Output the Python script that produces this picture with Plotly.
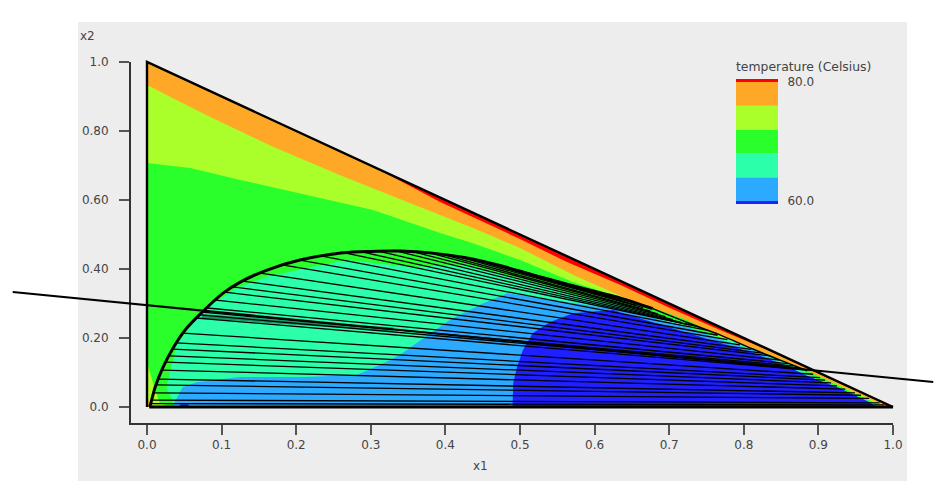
import plotly.graph_objects as go

W, H = 939, 486

# Filled temperature regions, painted from hottest to coolest (x1, x2 outlines)
red_x = [0, 1, 0]
red_y = [0, 0, 1]
orange_x = [0, .303, .393, .5, .563, .634, .701, .768, .826, .86, .9, .95, .985, .993, 0]
orange_y = [1, .697, .594, .487, .42, .354, .287, .223, .171, .137, .095, .045, .012, 0, 0]
lime_x = [0, .08, .169, .259, .349, .437, .5, .571, .638, .701, .745, .79, .826, .866, .9, .95, .98, .988, .012, .004, 0]
lime_y = [.933, .846, .754, .672, .594, .519, .461, .383, .319, .265, .228, .188, .155, .121, .09, .042, .012, 0, 0, .01, .03]
green_x = [0, .058, .125, .214, .303, .393, .437, .5, .571, .634, .678, .724, .768, .812, .858, .885, .95, .977, .985, .03, .017, .008, 0]
green_y = [.707, .693, .658, .614, .571, .504, .475, .426, .362, .318, .287, .252, .203, .167, .13, .105, .038, .011, 0, 0, .012, .07, .13]
teal_x = [.035, .026, .034, .04, .06, .085, .12, .16, .214, .268, .353, .429, .517, .584, .634, .701, .745, .79, .835, .866, .895, .95, .975, .982, .035]
teal_y = [.012, .058, .128, .18, .24, .295, .345, .377, .403, .426, .406, .412, .362, .319, .296, .252, .217, .188, .151, .122, .083, .035, .01, 0, 0]
blue_x = [.035, .048, .067, .125, .214, .281, .312, .339, .362, .406, .45, .483, .517, .584, .634, .678, .724, .768, .812, .858, .89, .95, .973, .98]
blue_y = [.006, .058, .072, .087, .087, .093, .122, .151, .186, .252, .3, .33, .319, .296, .281, .258, .232, .196, .165, .12, .085, .031, .008, 0]
navy_x = [.49, .491, .496, .504, .517, .54, .571, .625, .634, .678, .724, .768, .812, .858, .882, .925, .969, .976]
navy_y = [0, .07, .116, .165, .214, .246, .272, .281, .275, .246, .217, .188, .157, .118, .093, .058, .014, 0]
spot_x = [.044, .056, .056, .044]
spot_y = [0, 0, .008, .008]

region_colors = ["#ff0000", "#ffa726", "#aaff2b", "#2aff2b", "#2bffaa", "#2baaff", "#1f1fff", "#1f1fff"]

# Phase boundary (dome)
dome_x = [.003, .004, .011, .021, .035, .051, .074, .102, .125, .161, .205, .263, .30, .339, .383, .429, .473, .517, .563, .607, .634, .678]
dome_y = [0, .003, .058, .113, .171, .223, .275, .33, .362, .397, .426, .447, .451, .452, .446, .432, .41, .383, .356, .331, .316, .285]
tail_x = [.678, .724, .768, .812, .858, .885]
tail_y = [.285, .245, .209, .168, .128, .105]

# Tie lines: left end (x1, x2) and right end (x1, x2)
tie_left_x = [.004, .006, .009, .012, .016, .020, .025, .030, .034, .039, .048, .066, .071, .074, .081, .092, .104, .115, .128, .152, .181, .205, .233, .26, .285, .31, .335, .355, .375, .395, .415, .435, .455, .475, .495, .515, .53]
tie_left_y = [.01, .02, .041, .064, .081, .107, .13, .148, .168, .186, .214, .258, .267, .275, .287, .31, .333, .348, .365, .388, .412, .426, .438, .449, .451, .452, .452, .451, .449, .443, .437, .43, .42, .41, .398, .385, .375]
tie_right_x = [.988, .982, .968, .957, .949, .936, .925, .917, .909, .902, .893, .88, .873, .866, .859, .848, .836, .825, .81, .795, .778, .765, .752, .74, .728, .716, .705, .695, .685, .675, .665, .655, .645, .635, .625, .615, .61]
tie_right_y = [.006, .012, .025, .034, .041, .052, .061, .07, .078, .085, .095, .108, .114, .119, .126, .136, .148, .156, .167, .18, .195, .208, .222, .232, .238, .245, .253, .262, .27, .278, .288, .295, .302, .31, .318, .326, .33]

# Long line running past the triangle on both sides
long_x = [-.18, 1.054]
long_y = [.333, .0725]

# Dark patch under the long line
patch_x = [.074, .182, .33]
patch_y = [.264, .246, .225]

# Triangle edges
edge_x = [0, 0, 1]
edge_y = [0, 1, 0]
base_x = [.003, 1]
base_y = [0, 0]

# Axes
x_ticks = [0, .1, .2, .3, .4, .5, .6, .7, .8, .9, 1]
x_labels = ["0.0", "0.1", "0.2", "0.3", "0.4", "0.5", "0.6", "0.7", "0.8", "0.9", "1.0"]
y_ticks = [0, .2, .4, .6, .8, 1]
y_labels = ["0.0", "0.20", "0.40", "0.60", "0.80", "1.0"]

# Colour key
key_edges = [59.5, 60, 64, 68, 72, 76, 80, 80.5]
key_colors = ["#1f1fff", "#2baaff", "#2bffaa", "#2aff2b", "#aaff2b", "#ffa726", "#ff0000"]
key_ticks = [60, 80]
key_labels = ["60.0", "80.0"]

INK = "#444444"
FONT = "DejaVu Sans"

fig = go.Figure()
fig.add_trace(go.Scatter(x=[0], y=[0], mode="markers", marker=dict(opacity=0), hoverinfo="skip"))


def add(x, y, **kw):
    fig.add_trace(go.Scatter(x=x, y=y, xaxis="x2", yaxis="y2", hoverinfo="skip", **kw))


regions = [(red_x, red_y), (orange_x, orange_y), (lime_x, lime_y), (green_x, green_y),
           (teal_x, teal_y), (blue_x, blue_y), (navy_x, navy_y), (spot_x, spot_y)]
for (rx, ry), col in zip(regions, region_colors):
    add(rx, ry, mode="lines", fill="toself", fillcolor=col, line=dict(width=0))

add(patch_x, patch_y, mode="lines", line=dict(color="rgba(0,0,0,0.42)", width=4))

tx, ty = [], []
for a, b, c, d in zip(tie_left_x, tie_left_y, tie_right_x, tie_right_y):
    tx += [a, c, None]
    ty += [b, d, None]
add(tx, ty, mode="lines", line=dict(color="#000000", width=1.3))
add(long_x, long_y, mode="lines", line=dict(color="#000000", width=2))
add(tail_x, tail_y, mode="lines", line=dict(color="#000000", width=1.5, shape="spline"))
add(dome_x, dome_y, mode="lines", line=dict(color="#000000", width=3, shape="spline", smoothing=0.8))
add(edge_x, edge_y, mode="lines", line=dict(color="#000000", width=2.4))
add(base_x, base_y, mode="lines", line=dict(color="#000000", width=3))

for i, col in enumerate(key_colors):
    fig.add_trace(go.Bar(x=[0], y=[key_edges[i + 1] - key_edges[i]], base=[key_edges[i]], width=1,
                         marker=dict(color=col, line=dict(width=0)), xaxis="x3", yaxis="y3", hoverinfo="skip"))

fig.update_layout(
    width=W, height=H, autosize=False, showlegend=False, barmode="overlay",
    margin=dict(l=0, r=0, t=0, b=0, autoexpand=False), paper_bgcolor="white", plot_bgcolor="rgba(0,0,0,0)",
    font=dict(family=FONT, size=12, color=INK),
    xaxis=dict(domain=[131 / W, 893 / W], range=[-16 / 746, 1], tickvals=x_ticks, ticktext=x_labels,
               ticks="outside", ticklen=10, tickwidth=1.5, tickcolor="#555555", showline=True,
               linecolor="#333333", linewidth=2, showgrid=False, zeroline=False, anchor="y"),
    yaxis=dict(domain=[(H - 423) / H, (H - 62) / H], range=[-16 / 345, 1], tickvals=y_ticks, ticktext=y_labels,
               ticks="outside", ticklen=10, tickwidth=1.5, tickcolor="#555555", showline=True,
               linecolor="#333333", linewidth=2, showgrid=False, zeroline=False, anchor="x",
               ticklabelstandoff=8),
    xaxis2=dict(domain=[0, 1], range=[-147 / 746, 792 / 746], visible=False, anchor="y2"),
    yaxis2=dict(domain=[0, 1], range=[-79 / 345, 407 / 345], visible=False, anchor="x2"),
    xaxis3=dict(domain=[736 / W, 778 / W], range=[-.5, .5], visible=False, anchor="y3"),
    yaxis3=dict(domain=[(H - 204) / H, (H - 79) / H], range=[59.5, 80.5], side="right", anchor="x3",
                tickvals=key_ticks, ticktext=key_labels, ticks="outside", ticklen=6,
                tickcolor="rgba(0,0,0,0)", showline=False, showgrid=False, zeroline=False),
    shapes=[dict(type="rect", xref="paper", yref="paper", layer="below", x0=78 / W, x1=907 / W,
                 y0=(H - 481) / H, y1=(H - 22) / H, fillcolor="#ededed", line=dict(width=0))],
    annotations=[
        dict(text="x1", xref="paper", yref="paper", x=480 / W, y=(H - 466) / H, xanchor="center", yanchor="middle", showarrow=False),
        dict(text="x2", xref="paper", yref="paper", x=87 / W, y=(H - 36) / H, xanchor="center", yanchor="middle", showarrow=False),
        dict(text="temperature (Celsius)", xref="paper", yref="paper", x=734 / W, y=(H - 67) / H,
             xanchor="left", yanchor="middle", showarrow=False, font=dict(size=12.4)),
    ],
)

fig.write_html("out.html", config=dict(displayModeBar=False), post_script="document.body.style.margin='0';")
